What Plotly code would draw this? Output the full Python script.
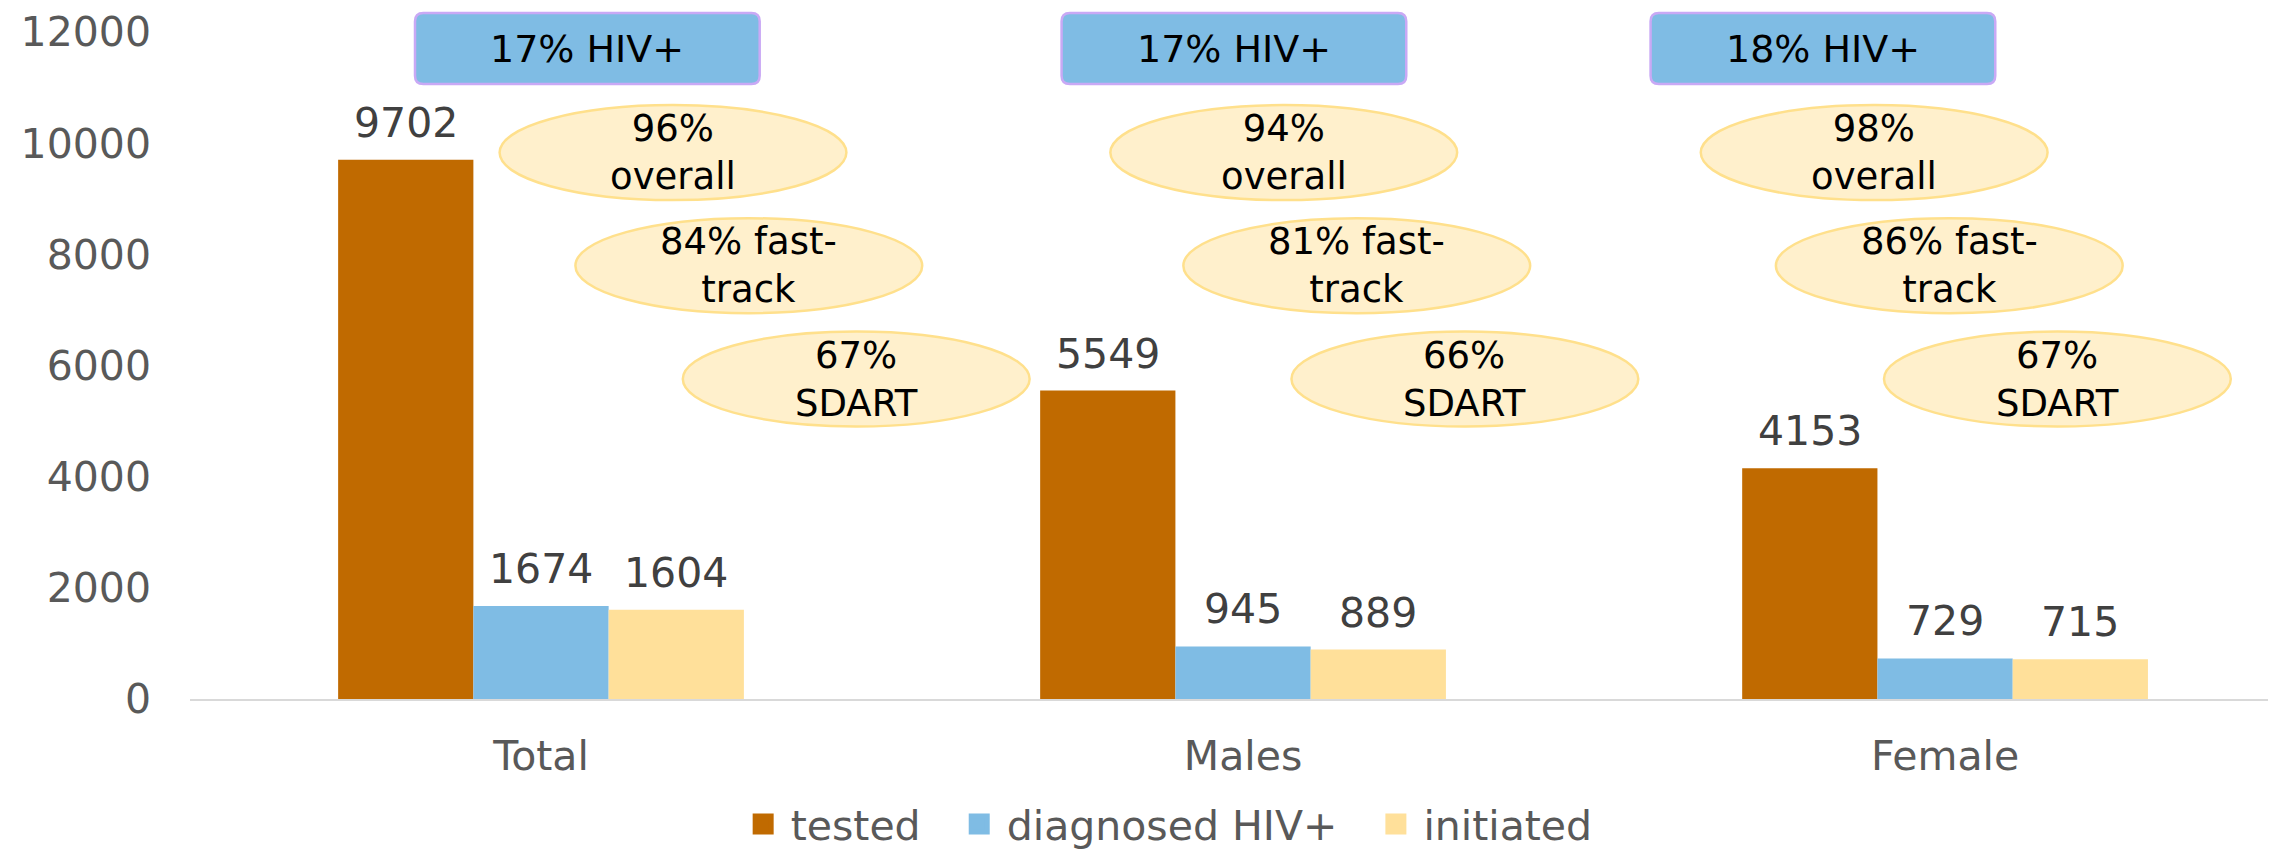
import plotly.graph_objects as go

# ---------------- data ----------------
categories = ["Total", "Males", "Female"]
tested = [9702, 5549, 4153]
diagnosed = [1674, 945, 729]
initiated = [1604, 889, 715]
series_names = ["tested", "diagnosed HIV+", "initiated"]
hiv_pct_labels = ["17% HIV+", "17% HIV+", "18% HIV+"]
overall_labels = ["96%<br>overall", "94%<br>overall", "98%<br>overall"]
fasttrack_labels = ["84% fast-<br>track", "81% fast-<br>track", "86% fast-<br>track"]
sdart_labels = ["67%<br>SDART", "66%<br>SDART", "67%<br>SDART"]

# ---------------- styling ----------------
colors = ["#C06A00", "#7FBCE4", "#FFE09A"]
FONT = "DejaVu Sans, Verdana, sans-serif"
BARGAP = 0.422
XR = [-0.5, 2.46]
YR = [0, 12000]

# callout layout (category-unit x offsets, value-unit y centres)
box_dx = [0.066, -0.013, -0.174]
box_y, box_h, box_w = 11703, 1277, 0.491
ell_w, ell_h = 0.494, 1709
ell_rows = [
    (overall_labels, [0.188, 0.058, -0.101], 9830),
    (fasttrack_labels, [0.296, 0.162, 0.006], 7795),
    (sdart_labels, [0.449, 0.316, 0.160], 5757),
]


def xp(x):
    return (x - XR[0]) / (XR[1] - XR[0])


def yp(y):
    return (y - YR[0]) / (YR[1] - YR[0])


fig = go.Figure()
all_series = [tested, diagnosed, initiated]
pad = "\u00a0" * 2
for i, (name, vals, col) in enumerate(zip(series_names, all_series, colors)):
    fig.add_trace(go.Bar(
        x=categories, y=vals, name=name, marker=dict(color=col, line=dict(width=0)),
        showlegend=False,
    ))
    fig.add_trace(go.Scatter(
        x=[None], y=[None], mode="markers", name=name + (pad if i < 2 else ""),
        marker=dict(symbol="square", size=20, color=col, line=dict(color=col, width=8)),
    ))

annotations = []
shapes = []

# data labels above bars
bw = (1 - BARGAP) / 3
for si, vals in enumerate(all_series):
    off = (si - 1) * bw
    for ci, v in enumerate(vals):
        annotations.append(dict(
            x=ci + off, y=v, xref="x", yref="y", text=str(v), showarrow=False,
            xanchor="center", yanchor="bottom", yshift=11,
            font=dict(family=FONT, size=41, color="#404040"),
        ))

# HIV+ boxes
for ci, lab in enumerate(hiv_pct_labels):
    cx = ci + box_dx[ci]
    x0, x1 = xp(cx - box_w / 2), xp(cx + box_w / 2)
    y0, y1 = yp(box_y - box_h / 2), yp(box_y + box_h / 2)
    r = 0.004
    ry = r * 2078 / 667
    path = (f"M{x0+r},{y0} L{x1-r},{y0} Q{x1},{y0} {x1},{y0+ry} L{x1},{y1-ry} "
            f"Q{x1},{y1} {x1-r},{y1} L{x0+r},{y1} Q{x0},{y1} {x0},{y1-ry} "
            f"L{x0},{y0+ry} Q{x0},{y0} {x0+r},{y0} Z")
    shapes.append(dict(type="path", path=path, xref="paper", yref="paper",
                       fillcolor="#7FBCE4", line=dict(color="#C9A9F5", width=2.5), layer="above"))
    annotations.append(dict(x=xp(cx), y=yp(box_y), xref="paper", yref="paper", text=lab,
                            xanchor="center", yanchor="middle",
                            showarrow=False, font=dict(family=FONT, size=38, color="#000000")))

# ellipses
for labels, dxs, yc in ell_rows:
    for ci, lab in enumerate(labels):
        cx = ci + dxs[ci]
        shapes.append(dict(type="circle", xref="paper", yref="paper",
                           x0=xp(cx - ell_w / 2), x1=xp(cx + ell_w / 2),
                           y0=yp(yc - ell_h / 2), y1=yp(yc + ell_h / 2),
                           fillcolor="#FFF0CC", line=dict(color="#FFE08C", width=2.5), layer="above"))
        annotations.append(dict(x=xp(cx), y=yp(yc), xref="paper", yref="paper", text=lab,
                                xanchor="center", yanchor="middle",
                                showarrow=False, font=dict(family=FONT, size=37, color="#000000")))

fig.update_layout(
    width=2283, height=852, autosize=False,
    margin=dict(l=190, r=15, t=32, b=153, pad=0, autoexpand=False),
    paper_bgcolor="white", plot_bgcolor="white",
    barmode="group", bargap=BARGAP, bargroupgap=0,
    font=dict(family=FONT, size=41, color="#595959"),
    xaxis=dict(type="category", range=XR, showgrid=False, showline=True,
               linecolor="#D9D9D9", linewidth=2, ticks="", ticklabelstandoff=20,
               tickfont=dict(size=41, color="#595959"), zeroline=False),
    yaxis=dict(range=YR, tickvals=[0, 2000, 4000, 6000, 8000, 10000, 12000],
               ticktext=["0", "2000", "4000", "6000", "8000", "10000", "12000"],
               showgrid=False, showline=False, zeroline=False, ticks="",
               ticklabelstandoff=38, tickfont=dict(size=41, color="#595959")),
    legend=dict(orientation="h", x=0.47, xanchor="center", y=-0.188, yanchor="middle",
                font=dict(size=41, color="#595959"), itemsizing="trace", itemwidth=45,
                bgcolor="rgba(0,0,0,0)"),
    shapes=shapes, annotations=annotations,
)

fig.write_html("out.html", config={"displayModeBar": False},
               post_script="document.body.style.margin='0';document.body.style.overflow='hidden';")
